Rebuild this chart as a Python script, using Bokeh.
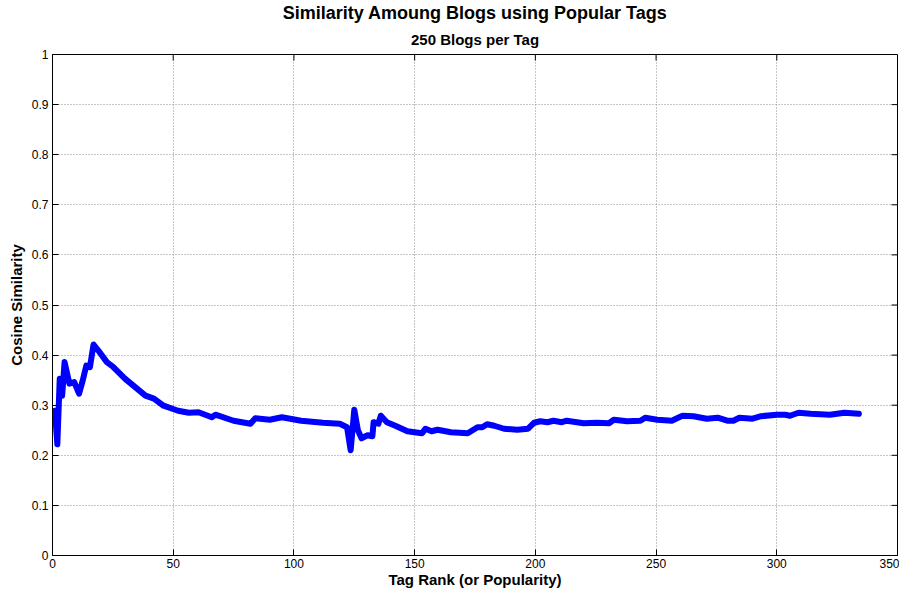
from bokeh.plotting import figure
from bokeh.models import Range1d, FixedTicker, Title
from bokeh.embed import file_html
from bokeh.resources import INLINE

# ---- data ----
tag_rank = [1, 2, 3, 4, 5, 7, 9, 11, 12.5, 14, 15.5, 17, 19, 22.5, 25, 30, 35, 38.5, 42, 46,
            52, 56.5, 60.5, 66, 67.5, 75, 82, 84, 90, 95, 103, 112, 119, 122, 123.5, 125,
            126.5, 128, 130.5, 132.5, 133, 135, 136, 138.5, 142, 147, 153, 154.5, 157, 159.5,
            165, 172, 176, 178, 180, 183, 187, 192.5, 197, 199.5, 202, 205, 207.5, 211, 213,
            220, 225.5, 230.5, 232.5, 238, 243.5, 245.5, 250.5, 256.5, 260, 261, 265.5, 271,
            275.5, 279.5, 282, 284.5, 290, 293.5, 300, 303.5, 305.5, 309, 314, 322, 328, 334]
cosine_similarity = [0.289, 0.222, 0.353, 0.319, 0.386, 0.343, 0.346, 0.323, 0.349, 0.379,
                     0.376, 0.421, 0.409, 0.386, 0.377, 0.353, 0.333, 0.319, 0.313, 0.299,
                     0.289, 0.285, 0.286, 0.276, 0.281, 0.269, 0.263, 0.274, 0.271, 0.276,
                     0.269, 0.265, 0.263, 0.256, 0.210, 0.291, 0.250, 0.234, 0.240, 0.238,
                     0.266, 0.263, 0.279, 0.266, 0.259, 0.248, 0.244, 0.253, 0.248, 0.251,
                     0.246, 0.244, 0.256, 0.256, 0.262, 0.259, 0.253, 0.251, 0.253, 0.265,
                     0.268, 0.266, 0.269, 0.266, 0.269, 0.264, 0.265, 0.264, 0.271, 0.268,
                     0.269, 0.275, 0.271, 0.269, 0.277, 0.279, 0.278, 0.273, 0.275, 0.269,
                     0.269, 0.275, 0.273, 0.278, 0.281, 0.281, 0.279, 0.285, 0.283, 0.281,
                     0.285, 0.283]

x_ticks = [0, 50, 100, 150, 200, 250, 300, 350]
x_tick_labels = ["0", "50", "100", "150", "200", "250", "300", "350"]
y_ticks = [0, 0.1, 0.2, 0.3, 0.4, 0.5, 0.6, 0.7, 0.8, 0.9, 1]
y_tick_labels = ["0", "0.1", "0.2", "0.3", "0.4", "0.5", "0.6", "0.7", "0.8", "0.9", "1"]

title_line1 = "Similarity Amoung Blogs using Popular Tags"
title_line2 = "250 Blogs per Tag"
x_label = "Tag Rank (or Popularity)"
y_label = "Cosine Similarity"

FONT = "Liberation Sans"
X_MIN, X_MAX = 0, 350
Y_MIN, Y_MAX = 0, 1

WIDTH, HEIGHT = 899, 591
B_LEFT, B_RIGHT, B_TOP, B_BOTTOM = 52, 2, 54, 36
FRAME_W = WIDTH - B_LEFT - B_RIGHT
FRAME_H = HEIGHT - B_TOP - B_BOTTOM

p = figure(width=WIDTH, height=HEIGHT, output_backend="svg", toolbar_location=None,
           x_range=Range1d(X_MIN, X_MAX), y_range=Range1d(Y_MIN, Y_MAX),
           min_border_left=B_LEFT, min_border_right=B_RIGHT,
           min_border_top=B_TOP, min_border_bottom=B_BOTTOM,
           background_fill_color="white", border_fill_color="white")

p.outline_line_color = "black"
p.outline_line_width = 1

# grid
for g in (p.xgrid[0], p.ygrid[0]):
    g.grid_line_color = "#8c8c8c"
    g.grid_line_dash = "1 2"
    g.grid_line_width = 1
p.xgrid[0].ticker = FixedTicker(ticks=x_ticks)
p.ygrid[0].ticker = FixedTicker(ticks=y_ticks)

p.line(tag_rank, cosine_similarity, line_color="#0000ff", line_width=6,
       line_join="round", line_cap="round")

# inward tick marks on the top and right edges of the box (MATLAB style)
tick_dx = (X_MAX - X_MIN) * 6 / FRAME_W
tick_dy = (Y_MAX - Y_MIN) * 6 / FRAME_H
inner_x = [t for t in x_ticks if X_MIN < t < X_MAX]
inner_y = [t for t in y_ticks if Y_MIN < t < Y_MAX]
p.segment(x0=inner_x, y0=[Y_MAX] * len(inner_x), x1=inner_x, y1=[Y_MAX - tick_dy] * len(inner_x),
          line_color="black", line_width=1)
p.segment(x0=[X_MAX] * len(inner_y), y0=inner_y, x1=[X_MAX - tick_dx] * len(inner_y), y1=inner_y,
          line_color="black", line_width=1)

# bottom / left axes
xa = p.xaxis[0]
xa.ticker = FixedTicker(ticks=x_ticks)
xa.major_label_overrides = {t: l for t, l in zip(x_ticks, x_tick_labels)}
ya = p.yaxis[0]
ya.ticker = FixedTicker(ticks=y_ticks)
ya.major_label_overrides = {t: l for t, l in zip(y_ticks, y_tick_labels)}

for ax in (xa, ya):
    ax.major_tick_in = 6
    ax.major_tick_out = 0
    ax.minor_tick_in = 0
    ax.minor_tick_out = 0
    ax.major_tick_line_color = "black"
    ax.axis_line_color = "black"
    ax.major_label_text_font = FONT
    ax.major_label_text_font_size = "12px"
    ax.major_label_text_color = "black"
    ax.major_label_standoff = 4
    ax.axis_label_text_font = FONT
    ax.axis_label_text_font_size = "15px"
    ax.axis_label_text_font_style = "bold"
    ax.axis_label_text_color = "black"
    ax.axis_label_standoff = 4

xa.axis_label = x_label
ya.axis_label = y_label
xa.major_label_standoff = 3
xa.axis_label_standoff = 0

# titles (later added = further from plot)
t2 = Title(text=title_line2, align="center", text_font=FONT, text_font_size="15px",
           text_font_style="bold", text_color="black", standoff=13, offset=0)
t1 = Title(text=title_line1, align="center", text_font=FONT, text_font_size="18px",
           text_font_style="bold", text_color="black", standoff=0, offset=0)
p.add_layout(t2, "above")
p.add_layout(t1, "above")

open("out.html", "w").write(file_html(p, INLINE))
